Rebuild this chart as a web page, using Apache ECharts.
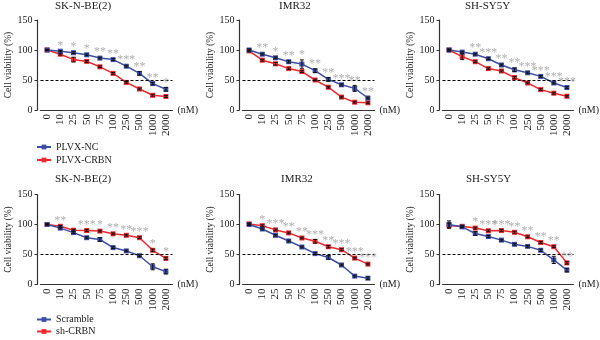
<!DOCTYPE html>
<html><head><meta charset="utf-8">
<script src="https://cdn.jsdelivr.net/npm/echarts@6/dist/echarts.min.js"></script>
<style>html,body{margin:0;padding:0;background:#fff}#c{width:600px;height:340px}</style>
</head><body><div id="c"></div>
<script>
const cats = ['0','10','25','50','75','100','250','500','1000','2000'];
const yTicks = [0, 50, 100, 150];

// Row 1 : PLVX-NC vs PLVX-CRBN
const skTopNC    = [100, 98, 95.5, 92, 86.5, 84, 73, 61, 44, 34.5];
const skTopCRBN  = [100, 93, 84, 81, 72, 61, 46, 35, 24.5, 22.5];
const skTopNCerr   = [1, 1, 1.5, 1.5, 1.5, 1.5, 1.5, 3, 2, 3];
const skTopCRBNerr = [1, 1.5, 4, 1.5, 1.5, 1.5, 1.5, 1.5, 1.5, 1.5];
const skTopStars = ['', '*', '*', '*', '**', '**', '***', '**', '**', '*'];

const imrTopNC   = [100, 93, 87, 80.5, 76.5, 65.5, 51, 42, 36, 20];
const imrTopCRBN = [98.5, 83, 77, 69, 64, 50, 38, 21.5, 13, 12];
const imrTopNCerr   = [2, 1.5, 1.5, 2, 7, 3, 3, 1.5, 5, 1.5];
const imrTopCRBNerr = [1.5, 1.5, 2, 1.5, 1.5, 1.5, 1.5, 1.5, 1.5, 1.5];
const imrTopStars = ['', '**', '*', '**', '*', '**', '**', '***', '**', '**'];

const shTopNC    = [100, 96.5, 93, 85.5, 75, 67, 62, 56, 45, 37.5];
const shTopCRBN  = [100, 89, 80.5, 69, 65, 54, 45, 34, 28, 23];
const shTopNCerr   = [1.5, 1.5, 1.5, 1.5, 1.5, 3, 1.5, 1.5, 1.5, 1.5];
const shTopCRBNerr = [1.5, 5, 1.5, 1.5, 1.5, 2, 1.5, 1.5, 1.5, 1.5];
const shTopStars = ['', '', '**', '***', '**', '**', '***', '***', '***', '***'];

// Row 2 : Scramble vs sh-CRBN
const skBotScr   = [100, 94, 86.5, 78, 75, 61.5, 56, 48, 29.5, 21.5];
const skBotSh    = [100, 97, 90.5, 90, 89, 84.5, 82, 78, 57, 43.5];
const skBotScrErr = [1, 1.5, 1.5, 1.5, 3, 1.5, 1.5, 1.5, 5, 4];
const skBotShErr  = [1, 1.5, 1.5, 1.5, 1.5, 1.5, 1.5, 1.5, 2, 2];
const skBotStars = ['', '**', '', '***', '*', '**', '**', '***', '*', '*'];

const imrBotScr  = [100, 92.5, 82, 72.5, 62.5, 51.5, 45, 32.5, 14, 10.5];
const imrBotSh   = [101, 98, 91, 86, 77.5, 72, 63, 58, 44, 34];
const imrBotScrErr = [1.5, 1.5, 1.5, 1.5, 1.5, 1.5, 3, 1.5, 1.5, 2];
const imrBotShErr  = [1.5, 1.5, 1.5, 1.5, 1.5, 3, 2, 1.5, 1.5, 1.5];
const imrBotStars = ['', '*', '***', '**', '**', '***', '**', '***', '***', '***'];

const shBotScr   = [100, 96, 85, 80, 74, 67, 63.5, 57, 41, 24];
const shBotSh    = [98, 97, 94, 89.5, 90, 87, 79.5, 70, 63, 36];
const shBotScrErr = [6, 1.5, 3, 1.5, 1.5, 1.5, 1.5, 2, 6, 3];
const shBotShErr  = [4, 1.5, 1.5, 1.5, 1.5, 1.5, 1.5, 1.5, 1.5, 2];
const shBotStars = ['', '', '*', '***', '***', '**', '**', '**', '**', '**'];

const panelTitles = ['SK-N-BE(2)', 'IMR32', 'SH-SY5Y', 'SK-N-BE(2)', 'IMR32', 'SH-SY5Y'];
const rowNames = [['PLVX-NC', 'PLVX-CRBN'], ['Scramble', 'sh-CRBN']];

const panels = [
  [skTopNC, skTopCRBN, skTopNCerr, skTopCRBNerr, skTopStars],
  [imrTopNC, imrTopCRBN, imrTopNCerr, imrTopCRBNerr, imrTopStars],
  [shTopNC, shTopCRBN, shTopNCerr, shTopCRBNerr, shTopStars],
  [skBotScr, skBotSh, skBotScrErr, skBotShErr, skBotStars],
  [imrBotScr, imrBotSh, imrBotScrErr, imrBotShErr, imrBotStars],
  [shBotScr, shBotSh, shBotScrErr, shBotShErr, shBotStars]
];

const FONT = 'Liberation Serif';
const BLUE = '#3d4fa6';
const RED = '#f0282e';
const AX = '#333';
const gridLefts = [40.5, 242.5, 442.5];
const gridTops = [20, 194.5];
const titleLefts = [[55, 279, 465], [55, 281, 466]];
const titleTops = [1, 174];

const grids = [], xAxes = [], yAxes = [], series = [], titles = [];
panels.forEach((p, k) => {
  const row = Math.floor(k / 3), col = k % 3;
  const [a, b, ea, eb, stars] = p;
  grids.push({ left: gridLefts[col], top: gridTops[row], width: 132, height: 90 });
  titles.push({ text: panelTitles[k], left: titleLefts[row][col], top: titleTops[row], padding: 0,
    textStyle: { fontFamily: FONT, fontSize: 11, fontWeight: 'normal', color: '#222' } });
  xAxes.push({
    type: 'category', gridIndex: k, data: cats, boundaryGap: true,
    name: '(nM)', nameLocation: 'end', nameGap: 5,
    nameTextStyle: { fontFamily: FONT, fontSize: 10, color: '#222', verticalAlign: 'middle' },
    axisLine: { lineStyle: { color: AX, width: 1.2 } },
    axisTick: { alignWithLabel: true, length: 3, lineStyle: { color: AX } },
    axisLabel: { rotate: 90, interval: 0, margin: 4, fontFamily: FONT, fontSize: 11, color: '#222' }
  });
  yAxes.push({
    type: 'value', gridIndex: k, min: 0, max: 150, interval: 50, offset: 3,
    name: 'Cell viability (%)', nameLocation: 'middle', nameGap: 20,
    nameTextStyle: { fontFamily: FONT, fontSize: 9.5, color: '#222' },
    axisLine: { show: true, lineStyle: { color: AX, width: 1.2 } },
    axisTick: { show: true, length: 3, lineStyle: { color: AX } },
    splitLine: { show: false },
    axisLabel: { margin: 5, fontFamily: FONT, fontSize: 10, color: '#222',
      formatter: v => yTicks.includes(v) ? String(v) : '' }
  });
  const names = rowNames[row];
  series.push({
    type: 'line', name: names[0], xAxisIndex: k, yAxisIndex: k, data: a,
    symbol: 'rect', symbolSize: 5, color: BLUE, lineStyle: { width: 1.5, color: BLUE }, z: 3
  });
  series.push({
    type: 'line', name: names[1], xAxisIndex: k, yAxisIndex: k, data: b,
    symbol: 'rect', symbolSize: 5, color: RED, lineStyle: { width: 1.5, color: RED }, z: 2,
    markLine: { silent: true, symbol: 'none', label: { show: false },
      lineStyle: { color: '#000', type: [3, 2], width: 1 }, data: [{ yAxis: 50 }] }
  });
  const errData = [];
  a.forEach((v, i) => errData.push([i, v, ea[i]]));
  b.forEach((v, i) => errData.push([i, v, eb[i]]));
  series.push({
    type: 'custom', xAxisIndex: k, yAxisIndex: k, data: errData, z: 4, silent: true,
    encode: { x: 0, y: 1 },
    renderItem: (params, api) => {
      const x = api.value(0), v = api.value(1), e = api.value(2);
      const t = api.coord([x, v + e]), bt = api.coord([x, v - e]);
      const c = 2;
      const st = { stroke: '#111', lineWidth: 1 };
      return { type: 'group', children: [
        { type: 'line', shape: { x1: t[0], y1: t[1], x2: bt[0], y2: bt[1] }, style: st },
        { type: 'line', shape: { x1: t[0] - c, y1: t[1], x2: t[0] + c, y2: t[1] }, style: st },
        { type: 'line', shape: { x1: bt[0] - c, y1: bt[1], x2: bt[0] + c, y2: bt[1] }, style: st }
      ] };
    }
  });
  series.push({
    type: 'scatter', xAxisIndex: k, yAxisIndex: k, silent: true, symbolSize: 0, z: 5,
    data: cats.map((c, i) => [i, Math.max(a[i] + ea[i], b[i] + eb[i])]),
    label: { show: true, position: 'top', distance: -1, fontFamily: FONT, fontSize: 12,
      color: '#9a9a9a', formatter: pp => stars[pp.dataIndex] }
  });
});

const legendStyle = { fontFamily: FONT, fontSize: 10, color: '#222' };
const mkLegend = (name, top) => ({ data: [name], orient: 'vertical', left: 36, top: top, padding: 0,
  itemWidth: 14, itemHeight: 6, textStyle: legendStyle, selectedMode: false });
const option = {
  animation: false,
  backgroundColor: '#fff',
  title: titles,
  grid: grids, xAxis: xAxes, yAxis: yAxes, series: series,
  legend: [
    mkLegend(rowNames[0][0], 142),
    mkLegend(rowNames[0][1], 155),
    mkLegend(rowNames[1][0], 314.5),
    mkLegend(rowNames[1][1], 326.5)
  ]
};
echarts.init(document.getElementById('c')).setOption(option);
</script></body></html>
